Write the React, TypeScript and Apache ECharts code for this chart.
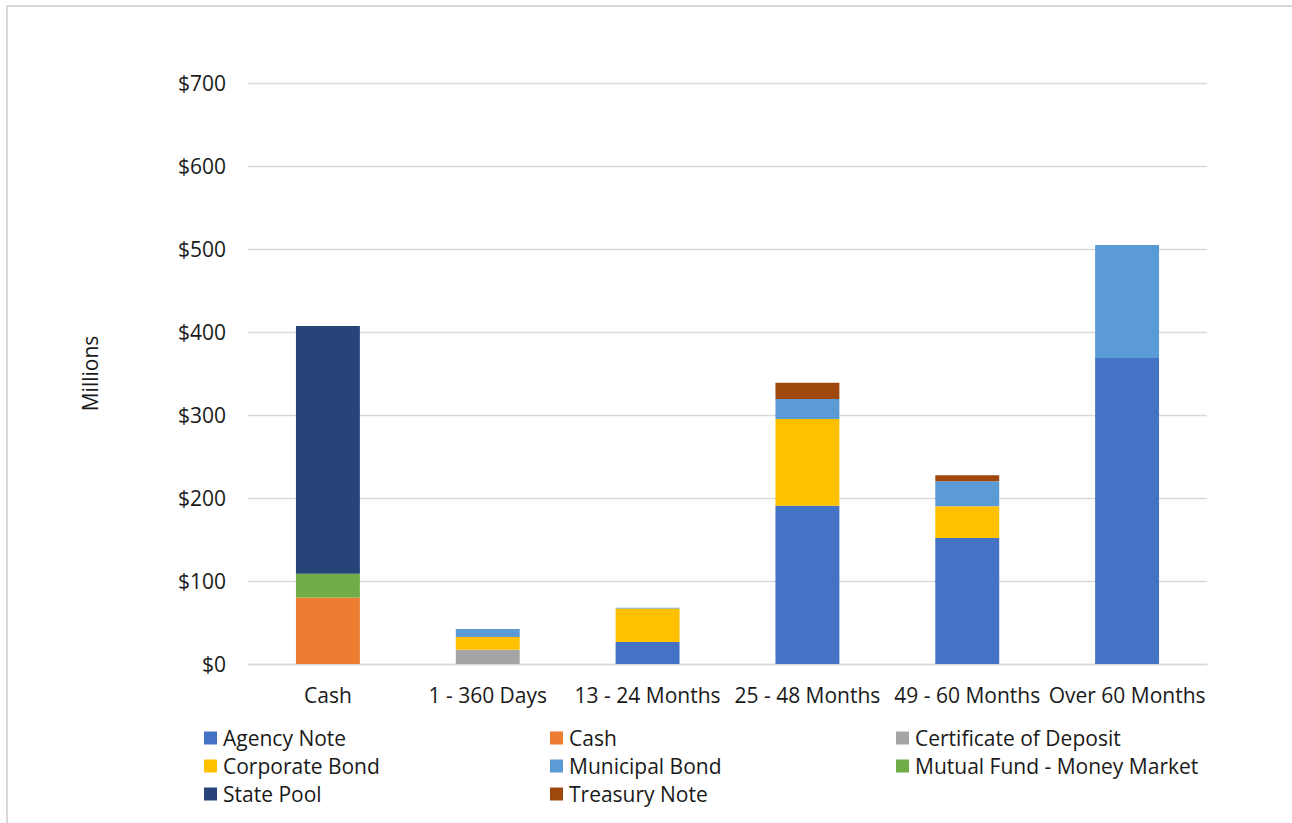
import React, { useEffect, useRef } from "react";
import * as echarts from "echarts";

const categories = ["Cash", "1 - 360 Days", "13 - 24 Months", "25 - 48 Months", "49 - 60 Months", "Over 60 Months"];
const yTicks = [0, 100, 200, 300, 400, 500, 600, 700];

const agencyNote = [0, 0, 26.4, 190.7, 151.8, 368.7];
const cash = [80, 0, 0, 0, 0, 0];
const certificateOfDeposit = [0, 17.3, 0, 0, 0, 0];
const corporateBond = [0, 15.3, 40.5, 104.6, 38.2, 0];
const municipalBond = [0, 9.7, 0.8, 23.9, 30.1, 136.1];
const mutualFund = [28.8, 0, 0, 0, 0, 0];
const statePool = [298.5, 0, 0, 0, 0, 0];
const treasuryNote = [0, 0, 0, 19.6, 7.2, 0];

const seriesDefs = [
  { name: "Agency Note", data: agencyNote, color: "#4472C4" },
  { name: "Cash", data: cash, color: "#ED7D31" },
  { name: "Certificate of Deposit", data: certificateOfDeposit, color: "#A5A5A5" },
  { name: "Corporate Bond", data: corporateBond, color: "#FFC000" },
  { name: "Municipal Bond", data: municipalBond, color: "#5B9BD5" },
  { name: "Mutual Fund - Money Market", data: mutualFund, color: "#70AD47" },
  { name: "State Pool", data: statePool, color: "#264478" },
  { name: "Treasury Note", data: treasuryNote, color: "#9E480E" },
];

const legendCols = [
  { left: 204, names: ["Agency Note", "Corporate Bond", "State Pool"] },
  { left: 550, names: ["Cash", "Municipal Bond", "Treasury Note"] },
  { left: 896, names: ["Certificate of Deposit", "Mutual Fund - Money Market"] },
];

const FONT = "'Open Sans', 'Noto Sans', sans-serif";

export default function App() {
  const ref = useRef<HTMLDivElement>(null);
  useEffect(() => {
    if (!ref.current) return;
    const chart = echarts.init(ref.current, null, { renderer: "svg" });
    chart.setOption({
      animation: false,
      backgroundColor: "#ffffff",
      textStyle: { fontFamily: FONT },
      grid: { left: 248, right: 85, top: 83, bottom: 159, containLabel: false },
      legend: legendCols.map((c) => ({
        orient: "vertical",
        left: c.left,
        top: 727,
        padding: 0,
        data: c.names,
        itemWidth: 13,
        itemHeight: 13,
        itemGap: 6,
        icon: "rect",
        selectedMode: false,
        textStyle: { fontFamily: FONT, fontSize: 21, color: "#1a1a1a", lineHeight: 22, padding: [0, 0, 0, 1] },
      })),
      xAxis: {
        type: "category",
        data: categories,
        axisLine: { lineStyle: { color: "#d9d9d9", width: 1.3 } },
        axisTick: { show: false },
        axisLabel: { fontFamily: FONT, fontSize: 21, color: "#1a1a1a", margin: 20, interval: 0 },
      },
      yAxis: {
        type: "value",
        min: 0,
        max: 700,
        interval: 100,
        name: "Millions",
        nameLocation: "middle",
        nameGap: 148,
        nameRotate: 90,
        nameTextStyle: { fontFamily: FONT, fontSize: 21, color: "#1a1a1a" },
        axisLine: { show: false },
        axisTick: { show: false },
        splitLine: { lineStyle: { color: "#d9d9d9", width: 1.3 } },
        axisLabel: {
          fontFamily: FONT,
          fontSize: 21,
          color: "#1a1a1a",
          margin: 22,
          formatter: (v: number) => (yTicks.includes(v) ? "$" + v : ""),
        },
      },
      series: seriesDefs.map((s) => ({
        name: s.name,
        type: "bar",
        stack: "total",
        barWidth: "40%",
        data: s.data,
        itemStyle: { color: s.color },
        emphasis: { disabled: true },
      })),
    });
    return () => chart.dispose();
  }, []);
  return (
    <div style={{ position: "fixed", left: 0, top: 0, width: 1292, height: 823, background: "#fff" }}>
      <div ref={ref} style={{ position: "absolute", left: 0, top: 0, width: 1292, height: 823 }} />
      <div
        style={{
          position: "absolute",
          left: 6,
          top: 5,
          width: 1300,
          height: 830,
          border: "2px solid #d9d9d9",
          boxSizing: "border-box",
          pointerEvents: "none",
        }}
      />
    </div>
  );
}
